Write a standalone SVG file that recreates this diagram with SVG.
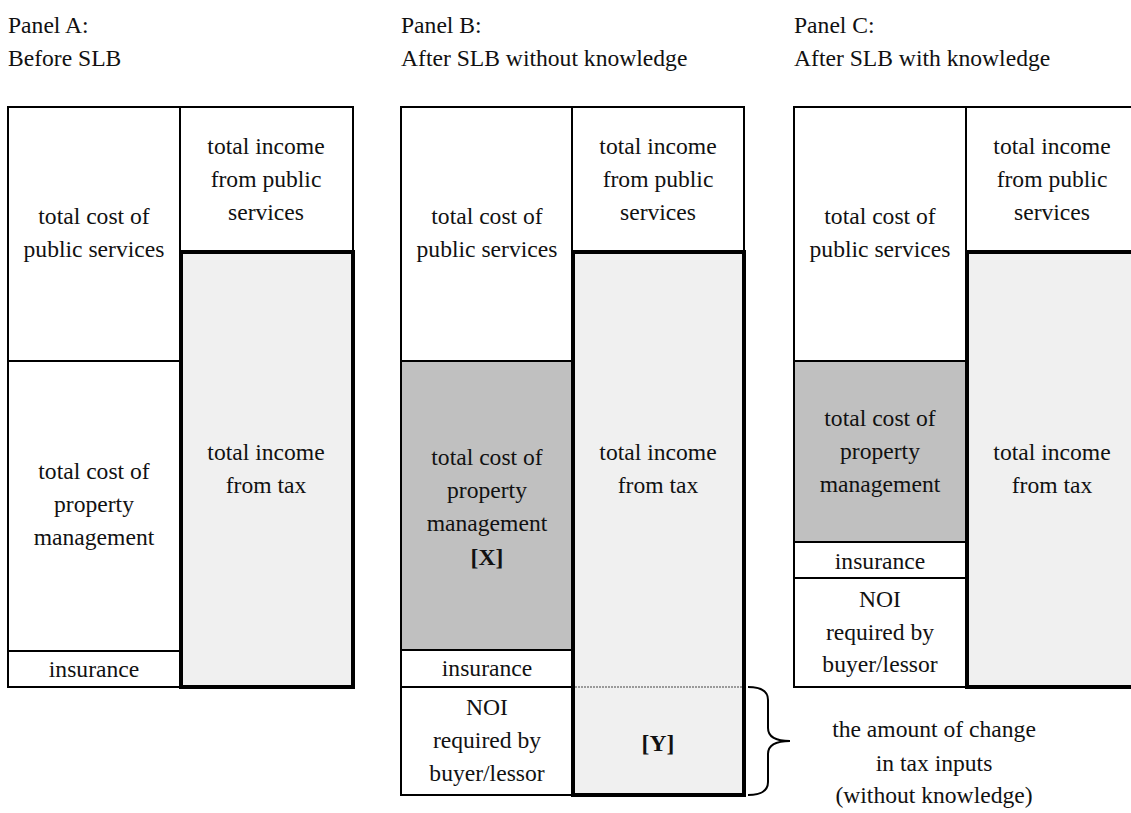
<svg xmlns="http://www.w3.org/2000/svg" width="1131" height="813" viewBox="0 0 1131 813">
<style>
text{font-family:"Liberation Serif","Times New Roman",serif;font-size:23.6px;fill:#111;}
.c{text-anchor:middle;}
.b{font-weight:bold;}
.thin{fill:#fff;stroke:#000;stroke-width:2;}
.gray{fill:#c0c0c0;stroke:#000;stroke-width:2;}
.bold{fill:#f0f0f0;stroke:#000;stroke-width:4;}
.ln{stroke:#000;stroke-width:2;fill:none;}
</style>
<rect width="1131" height="813" fill="#fff"/>
<g id="headers">
<text x="8" y="33">Panel A:</text>
<text x="8" y="66">Before SLB</text>
<text x="401" y="33">Panel B:</text>
<text x="401" y="66">After SLB without knowledge</text>
<text x="794" y="33">Panel C:</text>
<text x="794" y="66">After SLB with knowledge</text>
</g>
<g id="panelA">
<g id="A-cost-public"><rect class="thin" x="8" y="107" width="172" height="254"/>
<text class="c" x="94" y="224">total cost of</text><text class="c" x="94" y="257">public services</text></g>
<g id="A-cost-prop"><rect class="thin" x="8" y="361" width="172" height="290"/>
<text class="c" x="94" y="479">total cost of</text><text class="c" x="94" y="512">property</text><text class="c" x="94" y="545">management</text></g>
<g id="A-ins"><rect class="thin" x="8" y="651" width="172" height="36"/>
<text class="c" x="94" y="677">insurance</text></g>
<g id="A-inc-public"><rect class="thin" x="180" y="107" width="173" height="145"/>
<text class="c" x="266" y="154">total income</text><text class="c" x="266" y="187">from public</text><text class="c" x="266" y="220">services</text></g>
<g id="A-inc-tax"><rect class="bold" x="181" y="252" width="172" height="435"/>
<text class="c" x="266" y="460">total income</text><text class="c" x="266" y="493">from tax</text></g>
</g>
<g id="panelB">
<g id="B-cost-public"><rect class="thin" x="401" y="107" width="171" height="254"/>
<text class="c" x="487" y="224">total cost of</text><text class="c" x="487" y="257">public services</text></g>
<g id="B-cost-prop"><rect class="gray" x="401" y="361" width="171" height="289"/>
<text class="c" x="487" y="465">total cost of</text><text class="c" x="487" y="498">property</text><text class="c" x="487" y="531">management</text><text class="c b" x="487" y="565">[X]</text></g>
<g id="B-ins"><rect class="thin" x="401" y="650" width="171" height="37"/>
<text class="c" x="487" y="676">insurance</text></g>
<g id="B-noi"><rect class="thin" x="401" y="687" width="171" height="108"/>
<text class="c" x="487" y="715">NOI</text><text class="c" x="487" y="748">required by</text><text class="c" x="487" y="781">buyer/lessor</text></g>
<g id="B-inc-public"><rect class="thin" x="572" y="107" width="172" height="145"/>
<text class="c" x="658" y="154">total income</text><text class="c" x="658" y="187">from public</text><text class="c" x="658" y="220">services</text></g>
<g id="B-inc-tax"><rect class="bold" x="573" y="252" width="171" height="543"/>
<line x1="575" y1="687" x2="742" y2="687" stroke="#444" stroke-width="1" stroke-dasharray="2,1"/>
<text class="c" x="658" y="460">total income</text><text class="c" x="658" y="493">from tax</text>
<text class="c b" x="658" y="751">[Y]</text></g>
</g>
<g id="panelC">
<g id="C-cost-public"><rect class="thin" x="794" y="107" width="172" height="254"/>
<text class="c" x="880" y="224">total cost of</text><text class="c" x="880" y="257">public services</text></g>
<g id="C-cost-prop"><rect class="gray" x="794" y="361" width="172" height="181"/>
<text class="c" x="880" y="426">total cost of</text><text class="c" x="880" y="459">property</text><text class="c" x="880" y="492">management</text></g>
<g id="C-ins"><rect class="thin" x="794" y="542" width="172" height="36"/>
<text class="c" x="880" y="569">insurance</text></g>
<g id="C-noi"><rect class="thin" x="794" y="578" width="172" height="109"/>
<text class="c" x="880" y="607">NOI</text><text class="c" x="880" y="640">required by</text><text class="c" x="880" y="672">buyer/lessor</text></g>
<g id="C-inc-public"><rect class="thin" x="966" y="107" width="172" height="145"/>
<text class="c" x="1052" y="154">total income</text><text class="c" x="1052" y="187">from public</text><text class="c" x="1052" y="220">services</text></g>
<g id="C-inc-tax"><rect class="bold" x="967" y="252" width="171" height="435"/>
<text class="c" x="1052" y="460">total income</text><text class="c" x="1052" y="493">from tax</text></g>
</g>
<g id="connectors">
<path class="ln" d="M748,687 Q768,687 768,700 L768,728 Q768,741 790,741 Q768,741 768,754 L768,782 Q768,795 748,795"/>
</g>
<g id="brace-label">
<text class="c" x="934" y="737">the amount of change</text>
<text class="c" x="934" y="771">in tax inputs</text>
<text class="c" x="934" y="803">(without knowledge)</text>
</g>
</svg>
